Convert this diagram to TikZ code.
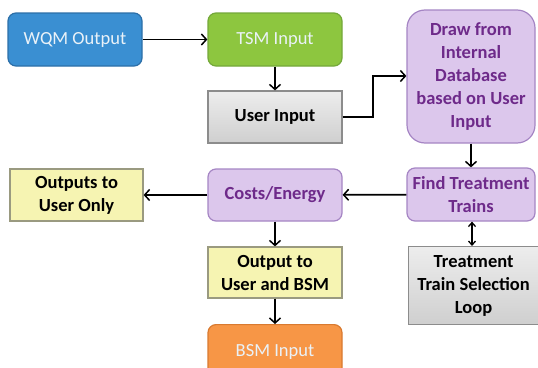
\documentclass[tikz,border=0pt]{standalone}
\usepackage{fontspec}
\setmainfont{Carlito}
\usetikzlibrary{arrows.meta}
\definecolor{wqm}{HTML}{3A8FD2}
\definecolor{wqmb}{HTML}{2C6FA8}
\definecolor{tsm}{HTML}{8DC63F}
\definecolor{tsmb}{HTML}{74A83A}
\definecolor{bsm}{HTML}{F79646}
\definecolor{bsmb}{HTML}{D97A30}
\definecolor{purp}{HTML}{DCC7EC}
\definecolor{purpb}{HTML}{A585C4}
\definecolor{purpt}{HTML}{6E2A8A}
\definecolor{yel}{HTML}{F6F4B2}
\definecolor{yelb}{HTML}{9A9A80}
\definecolor{gryt}{HTML}{EDEDED}
\definecolor{grybot}{HTML}{CFCFCF}
\definecolor{gryb}{HTML}{8C8C8C}
\definecolor{lighttxt}{HTML}{EAF2F8}
\begin{document}
\begin{tikzpicture}[x=1pt,y=-1pt,
  box/.style={draw,line width=1.2pt,align=center,inner sep=0pt},
  plainbox/.style={box,font=\fontsize{18.5}{23}\selectfont,text=lighttxt,rounded corners=8pt},
  purpbox/.style={box,fill=purp,draw=purpb,text=purpt,font=\fontsize{18.5}{23}\selectfont\bfseries},
  yelbox/.style={box,fill=yel,draw=yelb,font=\fontsize{18.5}{23}\selectfont\bfseries},
  grybox/.style={box,top color=gryt,bottom color=grybot,draw=gryb,font=\fontsize{18.5}{23}\selectfont\bfseries},
  arr/.style={line width=1.8pt,-{Straight Barb[length=5pt,width=11pt,line width=1.5pt]}},
  darr/.style={line width=1.6pt,{Straight Barb[length=4pt,width=7pt,line width=1.3pt]}-{Straight Barb[length=4pt,width=7pt,line width=1.3pt]}}
]
\useasboundingbox (0,0) rectangle (538,367);
\node[plainbox,fill=wqm,draw=wqmb,minimum width=134pt,minimum height=53pt] (wqm) at (75,39.5) {WQM Output};
\node[plainbox,fill=tsm,draw=tsmb,minimum width=134pt,minimum height=53pt] (tsm) at (275,39.5) {TSM Input};
\node[grybox,minimum width=134pt,minimum height=52pt] (user) at (275,117) {User Input};
\node[purpbox,rounded corners=18pt,minimum width=128pt,minimum height=133pt] (draw) at (471,76.5) {Draw from\\Internal\\Database\\based on User\\Input};
\node[purpbox,rounded corners=8pt,minimum width=128pt,minimum height=53pt] (find) at (471,194.5) {Find Treatment\\Trains};
\node[purpbox,rounded corners=8pt,minimum width=134pt,minimum height=52pt] (cost) at (275,195) {Costs/Energy};
\node[yelbox,minimum width=133pt,minimum height=52pt] (only) at (76.5,195) {Outputs to\\User Only};
\node[yelbox,minimum width=134pt,minimum height=51pt] (both) at (275,272.5) {Output to\\User and BSM};
\node[plainbox,fill=bsm,draw=bsmb,minimum width=134pt,minimum height=56pt,anchor=north] (bsmin) at (275,324) {};
\node[font=\fontsize{18.5}{23}\selectfont,text=lighttxt] (bsmtxt) at (275,352) {BSM Input};
\node[grybox,minimum width=130pt,minimum height=78pt,anchor=north west] (loop) at (408,246) {Treatment\\Train Selection\\Loop};
\draw[arr] (wqm) -- (tsm);
\draw[arr] (tsm) -- (user);
\coordinate (bend) at (373,117);
\draw[arr] (user.east) -- (bend) -- (373,76) -- (draw.west|-0,76);
\draw[arr] (draw) -- (find);
\draw[arr] (find) -- (cost);
\draw[arr] (cost) -- (only);
\draw[arr] (cost) -- (both);
\draw[arr] (both) -- (bsmin);
\draw[darr] (find.south-|472,0) -- (loop.north-|472,0);
\end{tikzpicture}
\end{document}
